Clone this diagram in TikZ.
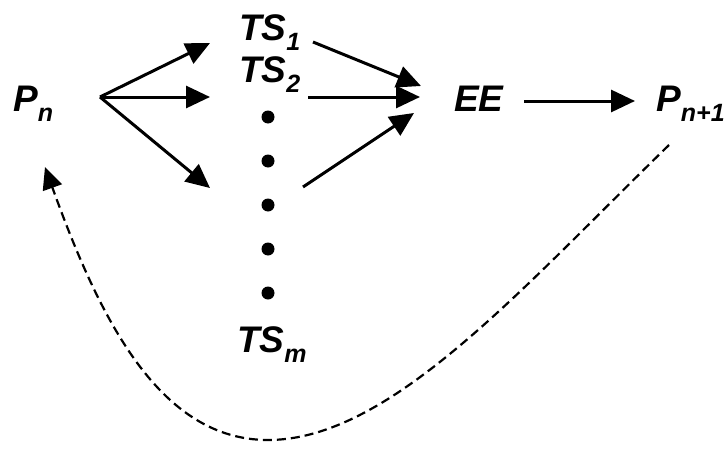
\documentclass[tikz,border=0pt]{standalone}
\usepackage{fontspec}
\setmainfont{Liberation Sans}
\usetikzlibrary{arrows.meta}
\newcommand{\lbl}[2]{\fontsize{37}{40}\selectfont\bfseries\itshape #1\raisebox{-10pt}{\fontsize{25}{28}\selectfont #2}}
\begin{document}
\begin{tikzpicture}[x=1pt,y=-1pt,
  lab/.style={inner sep=0pt,anchor=base west},
  arr/.style={line width=3pt,-{Triangle[length=24pt,width=22pt]}},
  dashedarr/.style={line width=2.2pt,dash pattern=on 9pt off 5pt,-{Triangle[length=22pt,width=20pt]}},
  dotmark/.style={circle,fill=black,inner sep=0pt,minimum size=13pt}]
\useasboundingbox (0,0) rectangle (724,450);
% labels
\node[lab] (Pn) at (13,111) {\lbl{P}{n}};
\node[lab] (TS1) at (239,40) {\lbl{TS}{1}};
\node[lab] (TS2) at (239,82) {\lbl{TS}{2}};
\node[lab] (TSm) at (237,352) {\lbl{TS}{m}};
\node[lab] (EE) at (454,111) {\lbl{EE}{}};
\node[lab] (Pn1) at (656,111) {\lbl{P}{n+1}};
% dots
\node[dotmark] (d1) at (268,117) {};
\node[dotmark] (d2) at (268,161) {};
\node[dotmark] (d3) at (268,205) {};
\node[dotmark] (d4) at (268,249) {};
\node[dotmark] (d5) at (268,293) {};
% connector ends
\coordinate (O) at (100,97);
\coordinate (a1) at (210,43);
\coordinate (a2) at (210,97);
\coordinate (a3) at (210,188);
\coordinate (s1) at (313,42);
\coordinate (t1) at (421,86);
\coordinate (s2) at (308,97);
\coordinate (t2) at (420,97);
\coordinate (s3) at (303,187);
\coordinate (t3) at (414,113);
\coordinate (e1) at (524,101);
\coordinate (e2) at (635,101);
\coordinate (q0) at (669,145);
\coordinate (qb) at (268,440);
\coordinate (q1) at (45,167);
% arrows
\draw[arr] (O) -- (a1);
\draw[arr] (O) -- (a2);
\draw[arr] (O) -- (a3);
\draw[arr] (s1) -- (t1);
\draw[arr] (s2) -- (t2);
\draw[arr] (s3) -- (t3);
\draw[arr] (e1) -- (e2);
\draw[dashedarr] (q0) .. controls (520,290) and (390,440) .. (qb)
  .. controls (160,440) and (100,320) .. (q1);
\end{tikzpicture}
\end{document}
